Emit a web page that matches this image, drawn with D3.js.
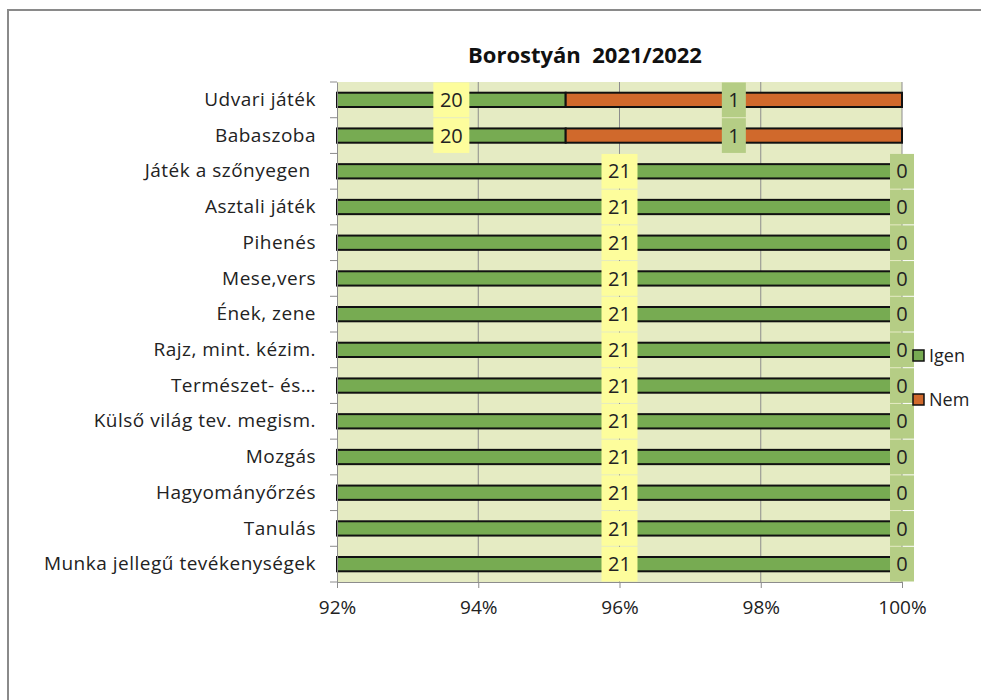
<!DOCTYPE html>
<html>
<head>
<meta charset="utf-8">
<script src="https://cdn.jsdelivr.net/npm/d3@7"></script>
<style>
  body { margin: 0; background: #fff; }
  svg { display: block; }
</style>
</head>
<body>
<div id="chart"></div>
<script>
// chart data
const title = "Borostyán  2021/2022";
const categories = [
    "Udvari játék",
    "Babaszoba",
    "Játék a szőnyegen ",
    "Asztali játék",
    "Pihenés",
    "Mese,vers",
    "Ének, zene",
    "Rajz, mint. kézim.",
    "Természet- és…",
    "Külső világ tev. megism.",
    "Mozgás",
    "Hagyományőrzés",
    "Tanulás",
    "Munka jellegű tevékenységek"
];
const igen = [20, 20, 21, 21, 21, 21, 21, 21, 21, 21, 21, 21, 21, 21];
const nem = [1, 1, 0, 0, 0, 0, 0, 0, 0, 0, 0, 0, 0, 0];
const seriesNames = ["Igen", "Nem"];
const xTicks = [0.92, 0.94, 0.96, 0.98, 1.0];

const width = 981, height = 700;
const fontFamily = "'Open Sans', Lato, sans-serif";
const barColors = ["#77ab52", "#d0692c"];
const labelBoxColors = ["#fdfd9c", "#b5cd85"];

const plot = { left: 337, right: 902, top: 82, bottom: 582 };

const svg = d3.select("#chart").append("svg")
    .attr("width", width)
    .attr("height", height)
    .attr("font-family", fontFamily);

// outer frame (runs off the right and bottom edges)
svg.append("rect")
    .attr("x", 8).attr("y", 10)
    .attr("width", 1000).attr("height", 720)
    .attr("fill", "none")
    .attr("stroke", "#8a8a8a")
    .attr("stroke-width", 2);

svg.append("text")
    .attr("x", 585).attr("y", 63)
    .attr("text-anchor", "middle")
    .attr("font-weight", "bold")
    .attr("font-size", 22)
    .attr("fill", "#111")
    .style("white-space", "pre")
    .text(title);

const x = d3.scaleLinear().domain([0.92, 1.0]).range([plot.left, plot.right]);
const y = d3.scaleBand().domain(categories).range([plot.top, plot.bottom]).padding(0);
const step = y.step();
const barH = step * 0.4;

// plot background
svg.append("rect")
    .attr("x", plot.left).attr("y", plot.top)
    .attr("width", plot.right - plot.left).attr("height", plot.bottom - plot.top)
    .attr("fill", "#e5ebc3");

// vertical gridlines
svg.append("g")
    .selectAll("line")
    .data(xTicks.slice(1))
    .join("line")
    .attr("x1", d => x(d)).attr("x2", d => x(d))
    .attr("y1", plot.top).attr("y2", plot.bottom)
    .attr("stroke", "#8c8c8c")
    .attr("stroke-width", 1);

// stack into percentages
const rows = categories.map((c, i) => {
    const total = igen[i] + nem[i];
    return { cat: c, values: [igen[i], nem[i]], shares: [igen[i] / total, nem[i] / total] };
});

const segments = [];
rows.forEach(r => {
    let start = 0;
    r.values.forEach((v, s) => {
        const end = start + r.shares[s];
        segments.push({ cat: r.cat, series: s, value: v, start: start, end: end });
        start = end;
    });
});

// visible part of a segment (axis starts at 92%)
const visX0 = d => x(Math.max(d.start, x.domain()[0]));
const visX1 = d => x(Math.max(d.end, x.domain()[0]));

svg.append("g")
    .selectAll("rect")
    .data(segments.filter(d => d.value > 0))
    .join("rect")
    .attr("x", d => visX0(d))
    .attr("y", d => y(d.cat) + (step - barH) / 2)
    .attr("width", d => visX1(d) - visX0(d))
    .attr("height", barH)
    .attr("fill", d => barColors[d.series])
    .attr("stroke", "#111")
    .attr("stroke-width", 2);

// data labels with coloured boxes
const labels = svg.append("g")
    .selectAll("g")
    .data(segments)
    .join("g")
    .attr("transform", d => `translate(${(visX0(d) + visX1(d)) / 2},${y(d.cat) + step / 2})`);

labels.append("rect")
    .attr("x", d => d.value >= 10 ? -18 : -12)
    .attr("y", -step / 2 + 0.5)
    .attr("width", d => d.value >= 10 ? 36 : 24)
    .attr("height", step - 1)
    .attr("fill", d => labelBoxColors[d.series]);

labels.append("text")
    .attr("text-anchor", "middle")
    .attr("dy", "0.36em")
    .attr("font-size", 20)
    .attr("fill", "#222")
    .text(d => d.value);

// category axis
const yAxis = svg.append("g")
    .attr("transform", `translate(${plot.left},0)`)
    .call(d3.axisLeft(y).tickSize(0).tickPadding(21));
yAxis.select(".domain").attr("stroke", "#8c8c8c");
yAxis.selectAll("text")
    .attr("font-size", 19)
    .attr("letter-spacing", 0.5)
    .attr("font-family", fontFamily)
    .attr("fill", "#222")
    .style("white-space", "pre");

// category tick marks sit between the bands
svg.append("g")
    .selectAll("line")
    .data(d3.range(categories.length + 1))
    .join("line")
    .attr("x1", plot.left - 7).attr("x2", plot.left)
    .attr("y1", i => plot.top + i * step).attr("y2", i => plot.top + i * step)
    .attr("stroke", "#8c8c8c");

// value axis
const xAxis = svg.append("g")
    .attr("transform", `translate(0,${plot.bottom})`)
    .call(d3.axisBottom(x).tickValues(xTicks).tickFormat(d3.format(".0%")).tickSize(6).tickPadding(13));
xAxis.select(".domain").attr("stroke", "#8c8c8c");
xAxis.selectAll(".tick line").attr("stroke", "#8c8c8c");
xAxis.selectAll("text")
    .attr("font-size", 19)
    .attr("font-family", fontFamily)
    .attr("fill", "#222");

// legend
const legend = svg.append("g")
    .selectAll("g")
    .data(seriesNames)
    .join("g")
    .attr("transform", (d, i) => `translate(913,${350 + i * 44})`);
legend.append("rect")
    .attr("width", 11).attr("height", 11)
    .attr("fill", (d, i) => barColors[i])
    .attr("stroke", "#111")
    .attr("stroke-width", 1.5);
legend.append("text")
    .attr("x", 16).attr("y", 6)
    .attr("dy", "0.36em")
    .attr("font-size", 18)
    .attr("fill", "#222")
    .text(d => d);
</script>
</body>
</html>
